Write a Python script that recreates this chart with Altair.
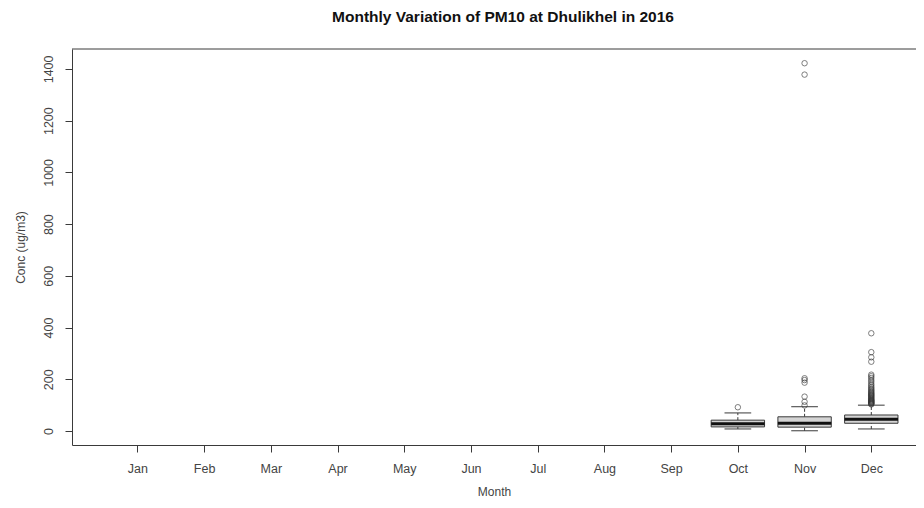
import json
import altair as alt
import pandas as pd

# ---- data ----
month_names = ["Jan", "Feb", "Mar", "Apr", "May", "Jun",
               "Jul", "Aug", "Sep", "Oct", "Nov", "Dec"]
month_idx = [1, 2, 3, 4, 5, 6, 7, 8, 9, 10, 11, 12]

box_month = [10, 11, 12]
whisk_lo = [8, 1, 8]
q1 = [16, 15, 30]
median = [28, 30, 46]
q3 = [42, 55, 62]
whisk_hi = [70, 94, 100]

out_oct = [92]
out_nov = [99, 113, 133, 187, 197, 204, 1378, 1422]
out_dec = [103, 105, 107, 109, 111, 113, 115, 117, 119, 121, 124, 127, 130,
           133, 136, 139, 142, 145, 148, 152, 156, 160, 165, 170, 176, 182,
           190, 197, 205, 212, 218, 268, 285, 305, 378]

y_ticks = [0, 200, 400, 600, 800, 1000, 1200, 1400]
x_domain = [0.02, 12.67]
y_domain = [-54, 1477]

title_text = "Monthly Variation of PM10 at Dhulikhel in 2016"
x_title = "Month"
y_title = "Conc (ug/m3)"

# ---- tables ----
stats = pd.DataFrame({"m": box_month, "lo": whisk_lo, "q1": q1,
                      "med": median, "q3": q3, "hi": whisk_hi})
outliers = pd.DataFrame({
    "m": [10] * len(out_oct) + [11] * len(out_nov) + [12] * len(out_dec),
    "v": out_oct + out_nov + out_dec,
})
frame_df = pd.DataFrame({"x0": [x_domain[0]], "x1": [x_domain[1]], "yt": [y_domain[1]]})

FONT = "Liberation Sans"
LINE = "#3a3a3a"
xs = alt.Scale(domain=x_domain, nice=False, zero=False)
ys = alt.Scale(domain=y_domain, nice=False, zero=False)

label_expr = "%s[datum.value - 1]" % json.dumps(month_names)

x_axis = alt.Axis(values=month_idx, labelExpr=label_expr, title=x_title,
                  labelPadding=10, titleY=46, titleBaseline="middle")
y_axis = alt.Axis(values=y_ticks, format="d", title=y_title, labelAngle=270,
                  labelAlign="center", labelBaseline="bottom", labelPadding=10,
                  titleX=-52, titleY=198, titleBaseline="middle")


def X(field):
    return alt.X(field, type="quantitative", scale=xs, axis=x_axis)


def Y(field):
    return alt.Y(field, type="quantitative", scale=ys, axis=y_axis)


base = alt.Chart(stats).transform_calculate(
    xl="datum.m - 0.4", xr="datum.m + 0.4",
    sl="datum.m - 0.2", sr="datum.m + 0.2",
)

whisk_low = base.mark_rule(color=LINE, strokeDash=[3, 2], strokeWidth=1).encode(
    x=X("m"), y=Y("lo"), y2="q1:Q")
whisk_high = base.mark_rule(color=LINE, strokeDash=[3, 2], strokeWidth=1).encode(
    x=X("m"), y=Y("q3"), y2="hi:Q")
staple_lo = base.mark_rule(color=LINE, strokeWidth=1).encode(
    x=X("sl"), x2="sr:Q", y=Y("lo"))
staple_hi = base.mark_rule(color=LINE, strokeWidth=1).encode(
    x=X("sl"), x2="sr:Q", y=Y("hi"))
boxes = base.mark_rect(fill="#d4d4d4", stroke=LINE, strokeWidth=1).encode(
    x=X("xl"), x2="xr:Q", y=Y("q1"), y2="q3:Q")
medians = base.mark_rule(color="#111111", strokeWidth=3).encode(
    x=X("xl"), x2="xr:Q", y=Y("med"))
points = alt.Chart(outliers).mark_point(
    shape="circle", filled=False, size=30, color="#333333", strokeWidth=0.9
).encode(x=X("m"), y=Y("v"))
top_frame = alt.Chart(frame_df).mark_rule(color=LINE, strokeWidth=1).encode(
    x=X("x0"), x2="x1:Q", y=Y("yt"))

chart = alt.layer(
    whisk_low, whisk_high, staple_lo, staple_hi, boxes, medians, points, top_frame
).properties(
    width=844, height=396,
    title=alt.TitleParams(title_text, font=FONT, fontSize=15.5, fontWeight="bold",
                          color="#111111", anchor="middle", dx=9, offset=23),
    autosize=alt.AutoSizeParams(type="none"),
    padding={"left": 64, "top": 41, "right": 0, "bottom": 54},
).configure_view(stroke=None).configure_axis(
    grid=False, domainColor=LINE, tickColor=LINE, tickSize=7,
    labelFont=FONT, labelFontSize=12.5, labelColor="#444444",
    titleFont=FONT, titleFontSize=12, titleFontWeight="normal", titleColor="#444444",
    labelFlush=False, labelOverlap=False,
)

chart.save("out.html", embed_options={"renderer": "svg", "actions": False})
